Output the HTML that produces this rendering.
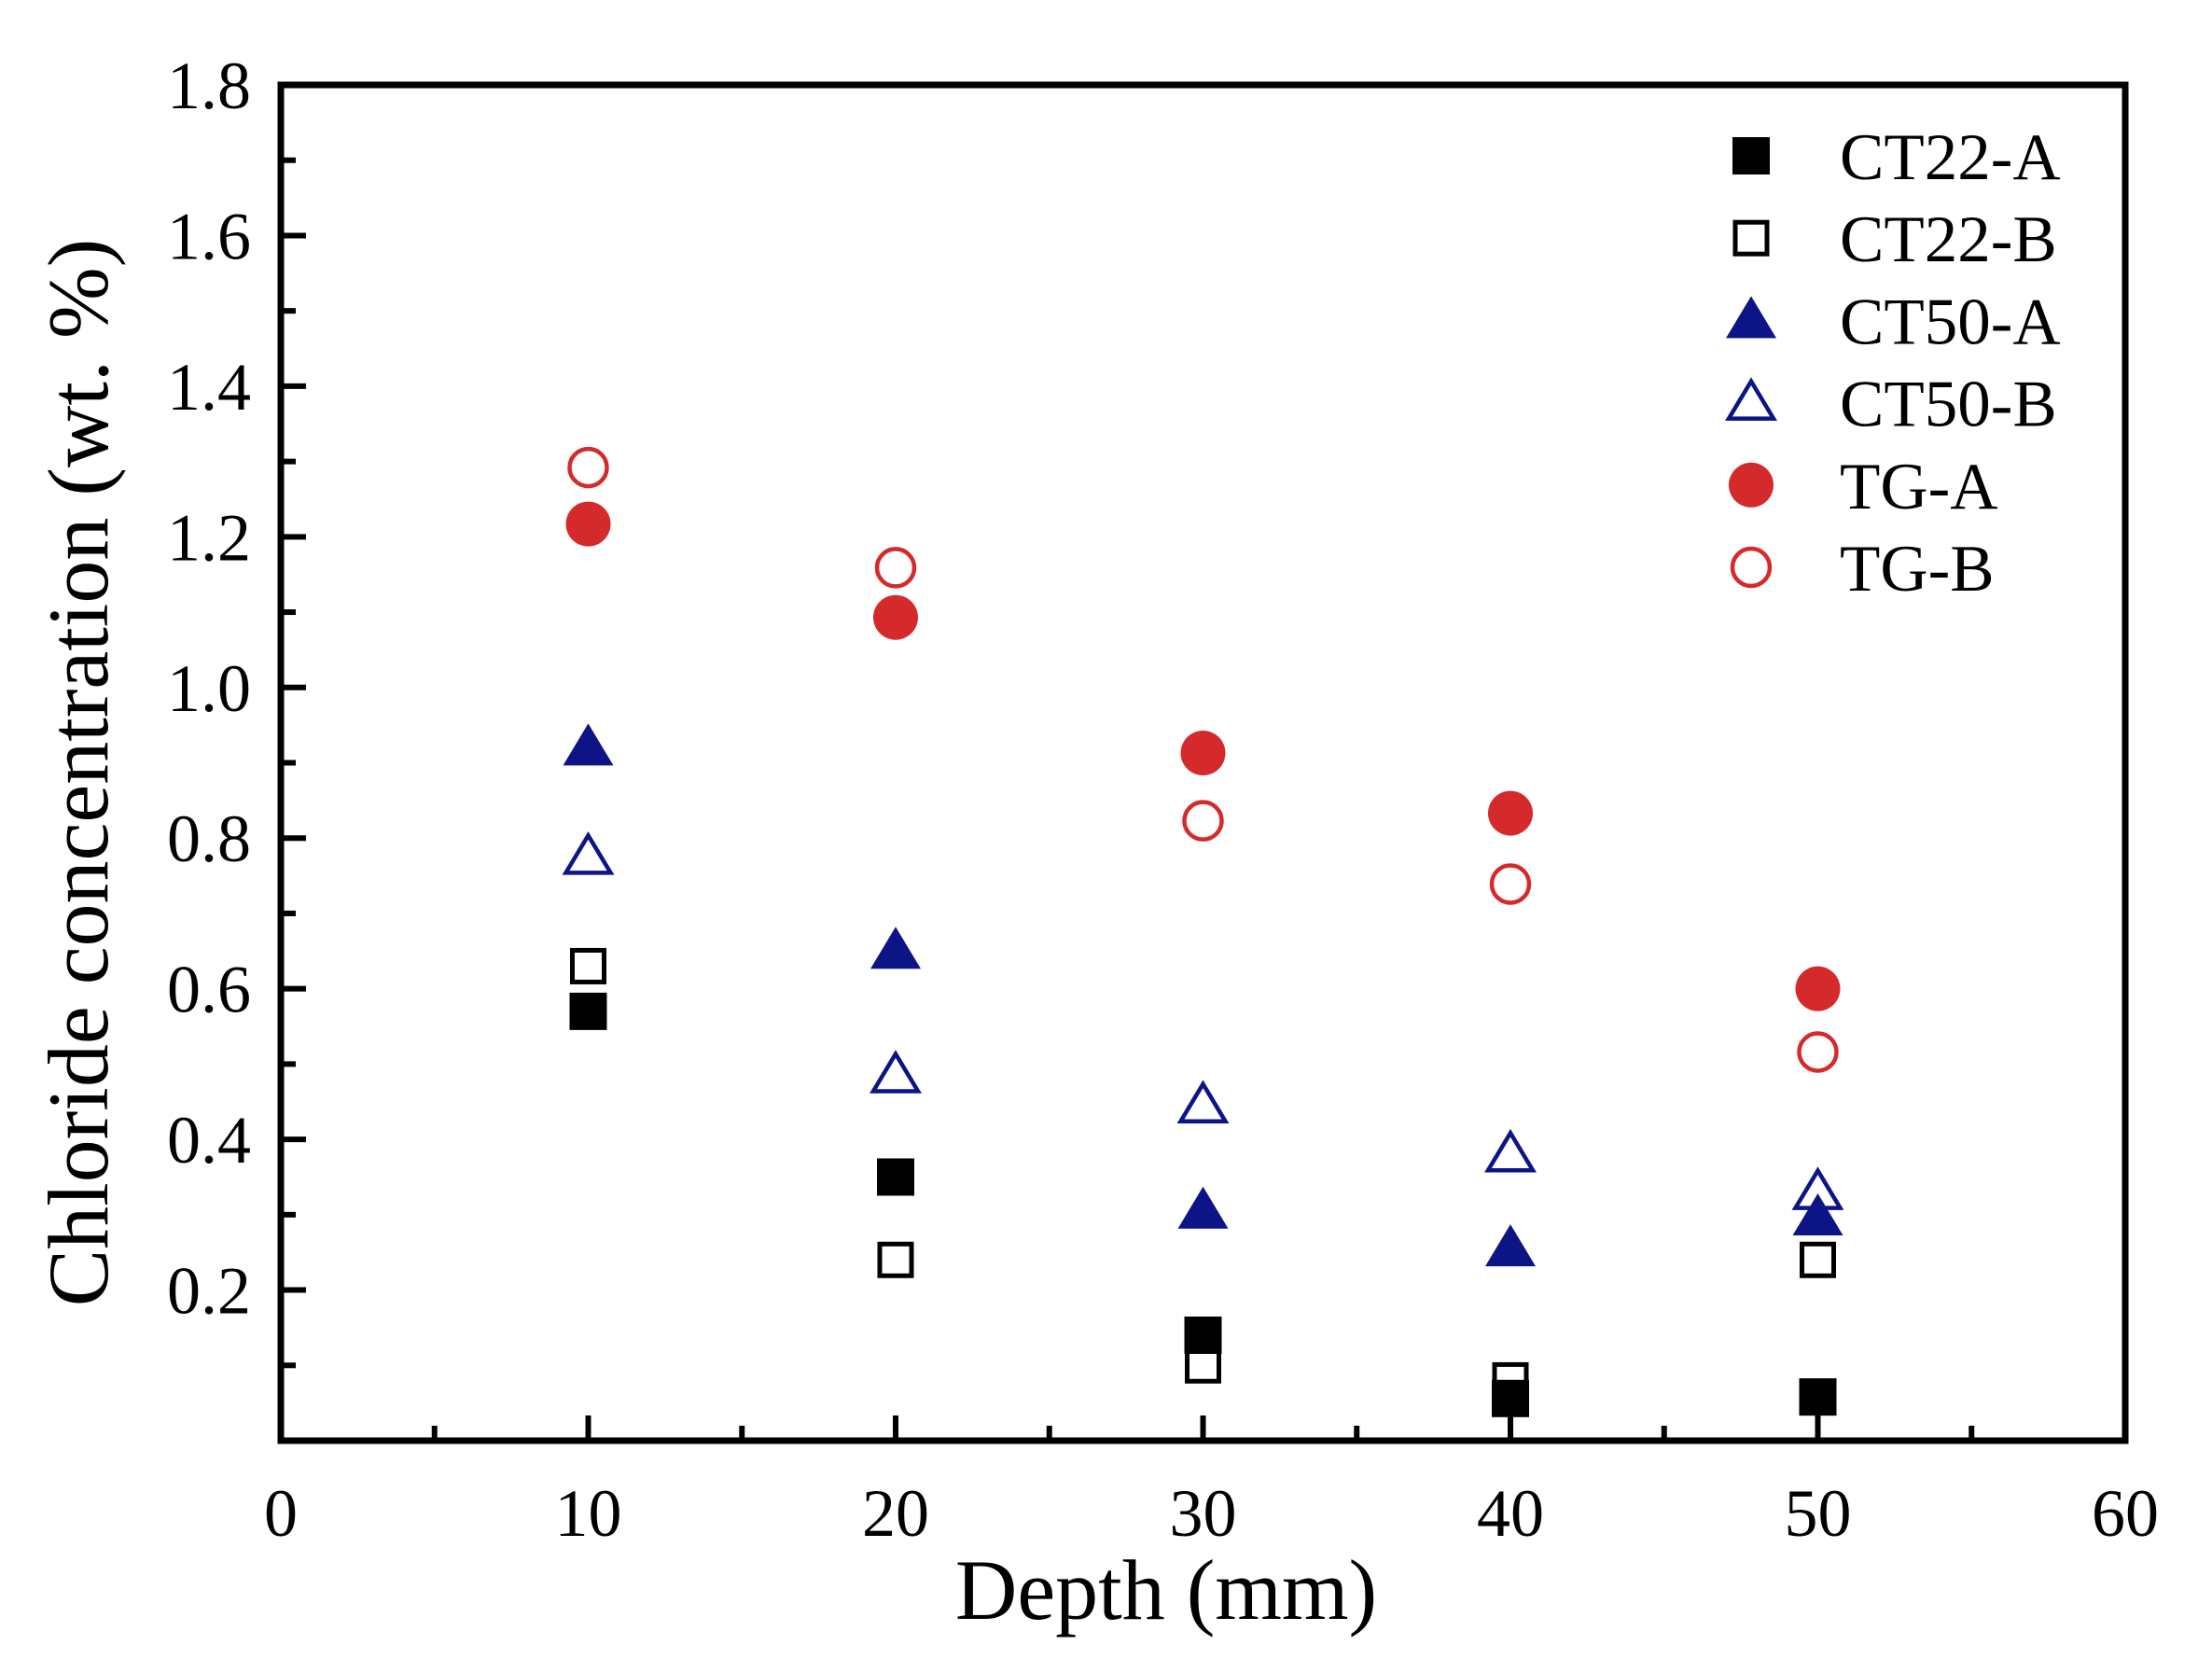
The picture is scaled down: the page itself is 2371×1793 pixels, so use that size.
<!DOCTYPE html>
<html><head><meta charset="utf-8"><style>
html,body{margin:0;padding:0;background:#fff;}
svg{display:block;font-family:"Liberation Serif",serif;}
</style></head><body>
<svg id="chart" width="2371" height="1793" viewBox="0 0 2371 1793" xmlns="http://www.w3.org/2000/svg">
<g id="axes"></g><g id="marks"></g><g id="legend"></g>
</svg>
<script>
const depths=[10,20,30,40,50];
const ct22A=[0.57,0.35,0.14,0.056,0.058];
const ct22B=[0.63,0.24,0.10,0.08,0.24];
const ct50A=[0.92,0.65,0.305,0.255,0.296];
const ct50B=[0.775,0.485,0.445,0.38,0.33];
const tgA=[1.217,1.093,0.913,0.833,0.60];
const tgB=[1.292,1.159,0.823,0.739,0.516];
const xTicks=[0,10,20,30,40,50,60];
const yTicks=[0.2,0.4,0.6,0.8,1.0,1.2,1.4,1.6,1.8];
const seriesNames=["CT22-A","CT22-B","CT50-A","CT50-B","TG-A","TG-B"];

const L=301,R=2278,T=91,B=1544;
const X=v=>L+(v-0)/60*(R-L);
const Y=v=>B-(v-0)/1.8*(B-T);
const NS="http://www.w3.org/2000/svg";
function mk(tag,parent,attrs){const e=document.createElementNS(NS,tag);for(const k in attrs)e.setAttribute(k,attrs[k]);parent.appendChild(e);return e;}
const axes=document.getElementById('axes'),marks=document.getElementById('marks'),leg=document.getElementById('legend');

const frame=mk('rect',axes,{x:L,y:T,width:R-L,height:B-T,fill:'none',stroke:'#000','stroke-width':7});


for(let v=5;v<60;v+=5){
  const major=v%10===0;
  const t=mk('line',axes,{x1:X(v),x2:X(v),y1:B,y2:B-(major?27:16),stroke:'#000','stroke-width':6});
  
  
}
for(let i=1;i<18;i++){
  const v=i*0.1,major=i%2===0;
  const t=mk('line',axes,{x1:L,x2:L+(major?27:16),y1:Y(v),y2:Y(v),stroke:'#000','stroke-width':6});
  
  
}
xTicks.forEach(v=>{
  const t=mk('text',axes,{x:X(v),y:1646,'font-size':72,'text-anchor':'middle',fill:'#000'});
  t.textContent=String(v);
  
  
});
yTicks.forEach(v=>{
  const t=mk('text',axes,{x:269,y:Y(v)+25,'font-size':72,'text-anchor':'end',fill:'#000'});
  t.textContent=v.toFixed(1);
  
  
});
const xt=mk('text',axes,{x:1250,y:1735,'font-size':92,'text-anchor':'middle',fill:'#000'});
xt.textContent='Depth (mm)';


const yt=mk('text',axes,{x:0,y:0,'font-size':92,'text-anchor':'middle',fill:'#000',transform:'translate(115,828) rotate(-90)'});
yt.textContent='Chloride concentration (wt. %)';



const BLUE='#0d1485',RED='#d52a2c';
function marker(parent,type,cx,cy){
  let e;
  if(type==='sqF')e=mk('rect',parent,{x:cx-20,y:cy-20,width:40,height:40,fill:'#000'});
  else if(type==='sqO')e=mk('rect',parent,{x:cx-17,y:cy-17,width:34,height:34,fill:'#fff',stroke:'#000','stroke-width':5});
  else if(type==='triF')e=mk('polygon',parent,{points:`${cx},${cy-26} ${cx+27},${cy+19} ${cx-27},${cy+19}`,fill:BLUE});
  else if(type==='triO')e=mk('polygon',parent,{points:`${cx},${cy-23} ${cx+24},${cy+17} ${cx-24},${cy+17}`,fill:'#fff',stroke:BLUE,'stroke-width':4.5});
  else if(type==='cirF')e=mk('circle',parent,{cx:cx,cy:cy,r:24,fill:RED});
  else e=mk('circle',parent,{cx:cx,cy:cy,r:20,fill:'#fff',stroke:RED,'stroke-width':4.5});
  return e;
}
const types=['sqF','sqO','triF','triO','cirF','cirO'];
const allSeries=[ct22A,ct22B,ct50A,ct50B,tgA,tgB];
const drawOrder=[5,4,3,2,1,0];
drawOrder.forEach(s=>{
  allSeries[s].forEach((v,i)=>{
    const m=marker(marks,types[s],X(depths[i]),Y(v));
    
    
  });
});
seriesNames.forEach((n,i)=>{
  const y=167+i*88.2;
  const g=mk('g',leg,{});
  
  
  marker(g,types[i],1877,y);
  const t=mk('text',g,{x:1972,y:y+25,'font-size':71,fill:'#000'});
  t.textContent=n;
});
</script>
</body></html>
